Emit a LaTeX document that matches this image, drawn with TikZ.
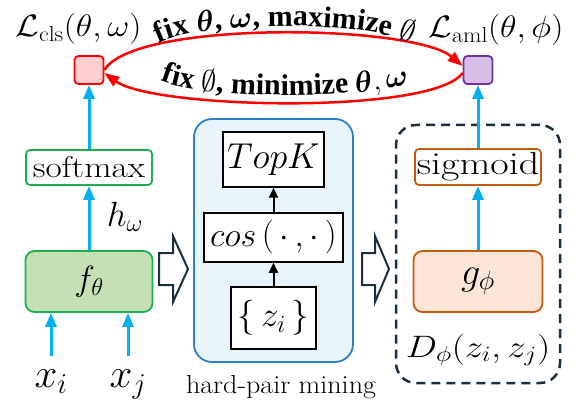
\RequirePackage{fix-cm}
\documentclass[tikz,border=0pt]{standalone}
\usepackage{fontspec}
\usepackage{bm}
\usepackage{graphicx}
\newfontfamily\tnr{Liberation Serif}
\usetikzlibrary{arrows.meta,decorations.text}
\definecolor{cblue}{HTML}{00B0F0}
\definecolor{cgreen}{HTML}{1DAF50}
\definecolor{lgreen}{HTML}{C5E0B4}
\definecolor{lpink}{HTML}{FFCECE}
\definecolor{lpurple}{HTML}{D7BEE8}
\definecolor{cpurple}{HTML}{7030A0}
\definecolor{corange}{HTML}{C55A11}
\definecolor{lorange}{HTML}{FBE5D6}
\definecolor{minfill}{HTML}{E7F5FB}
\definecolor{minbord}{HTML}{2E7FC2}
\definecolor{navy}{HTML}{1C2F3D}
\newcommand{\arcfont}{\tnr\bfseries\fontsize{30}{32}\selectfont}
\newcommand{\wide}[2]{\scalebox{#1}[1]{#2}}
\tikzset{
  fs/.style={font=\fontsize{#1}{#1}\selectfont},
  sq/.style={minimum width=29pt, minimum height=28pt, rounded corners=4pt, line width=1.8pt, inner sep=0pt},
  gbox/.style={draw=cgreen, line width=1.8pt, rounded corners=4pt, fill=white, inner sep=0pt},
  obox/.style={draw=corange, line width=1.8pt, rounded corners=4pt, fill=white, inner sep=0pt},
  kbox/.style={draw=black, line width=1.5pt, fill=white, inner sep=0pt},
  lbl/.style={inner sep=1pt},
  barrow/.style={draw=cblue, line width=3pt, -{Triangle[length=14pt,width=11pt]}},
  karrow/.style={draw=black, line width=2pt, -{Triangle[length=10pt,width=9pt]}},
  redarc/.style={draw=red, line width=2.5pt, -{Triangle[length=15pt,width=11pt]}},
  blockarrow/.style={draw=navy, line width=2pt, fill=white, line join=miter},
}
\begin{document}
\begin{tikzpicture}[x=1pt,y=1pt]
\useasboundingbox (0,0) rectangle (577,399);

% containers
\node[draw=minbord, fill=minfill, line width=1.8pt, rounded corners=18pt,
      minimum width=159pt, minimum height=243pt] (mining) at (273.5,158.5) {};
\node[draw=navy, line width=2.5pt, dash pattern=on 9pt off 6pt, rounded corners=20pt,
      minimum width=164pt, minimum height=258pt] (disc) at (478,145) {};

% loss squares and labels
\node[sq, fill=lpink, draw=red] (lcls) at (89,329) {};
\node[sq, fill=lpurple, draw=cpurple] (laml) at (478,329) {};
\node[lbl, fs=31] (lclslabel) at (78.5,370) {\wide{1.1}{$\mathcal{L}_{\mathrm{cls}}(\theta,\omega)$}};
\node[lbl, fs=31] (lamllabel) at (496,369) {\wide{1.1}{$\mathcal{L}_{\mathrm{aml}}(\theta,\phi)$}};

% left column
\node[gbox, fs=30, minimum width=126pt, minimum height=35pt] (softmax) at (89,231.5) {\wide{1.18}{softmax}};
\node[gbox, fill=lgreen, rounded corners=9pt, fs=35, minimum width=127pt, minimum height=61pt] (ftheta) at (89,117.5) {$f_\theta$};
\node[lbl, fs=35] (hw) at (125,182) {$h_\omega$};
\node[lbl, fs=41, anchor=base] (xi) at (51,12) {$x_i$};
\node[lbl, fs=41, anchor=base] (xj) at (128,12) {$x_j$};

% mining column
\node[kbox, fs=36, minimum width=101pt, minimum height=55pt] (topk) at (273.5,239.5) {$TopK$};
\node[kbox, fs=34, minimum width=139pt, minimum height=49pt] (cos) at (273.5,161.5) {$cos\left(\,\cdot\,,\cdot\,\right)$};
\node[kbox, fs=35, minimum width=85pt, minimum height=62pt] (zi) at (273.5,81) {$\big\{\,z_i\,\big\}$};
\node[lbl, fs=26, anchor=base] (minlabel) at (281,6) {\wide{1.08}{hard-pair mining}};

% right column
\node[obox, fs=32, minimum width=126pt, minimum height=36pt] (sigmoid) at (478,232) {\wide{1.25}{sigmoid}};
\node[obox, fill=lorange, rounded corners=9pt, fs=38, minimum width=129pt, minimum height=61pt] (gphi) at (478,117.5) {$g_\phi$};
\node[lbl, fs=31] (dlabel) at (478,49) {\wide{1.2}{$D_\phi(z_i,z_j)$}};

% blue arrows
\draw[barrow] ([yshift=12pt]xi.north) -- (xi.north |- ftheta.south);
\draw[barrow] ([yshift=12pt]xj.north) -- (xj.north |- ftheta.south);
\draw[barrow] (ftheta.north) -- (softmax.south);
\draw[barrow] (softmax.north) -- (lcls.south);
\draw[barrow] (gphi.north) -- (sigmoid.south);
\draw[barrow] (sigmoid.north) -- (laml.south);

% black arrows
\draw[karrow] (zi.north) -- (cos.south);
\draw[karrow] (cos.north) -- (topk.south);

% hollow block arrows
\draw[blockarrow] (159,114) -- (173,114) -- (173,97) -- (188,130) -- (173,163) -- (173,146) -- (159,146) -- cycle;
\draw[blockarrow] (362,114) -- (375,114) -- (375,97) -- (389,130) -- (375,163) -- (375,146) -- (362,146) -- cycle;

% red arcs
\draw[redarc] (lcls.east) .. controls +(30,50) and +(-50,42) .. ([yshift=4pt]laml.west);
\draw[redarc] ([yshift=-3pt]laml.west) .. controls +(-30,-42) and +(50,-36) .. ([yshift=-3pt]lcls.east);

% arc texts
\path[decorate, decoration={text along path, text align=center,
  text={|\arcfont|fix {$\bm{\theta}$}, {$\bm{\omega}$}, maximize {$\emptyset$}}}]
  (150,349) .. controls (175,381) and (395,381) .. (420,349);
\path[decorate, decoration={text along path, text align=center,
  text={|\arcfont|fix {$\emptyset$}, minimize {$\bm{\theta},\bm{\omega}$}}}]
  (150,325) .. controls (175,297) and (395,297) .. (420,323);
\end{tikzpicture}
\end{document}
